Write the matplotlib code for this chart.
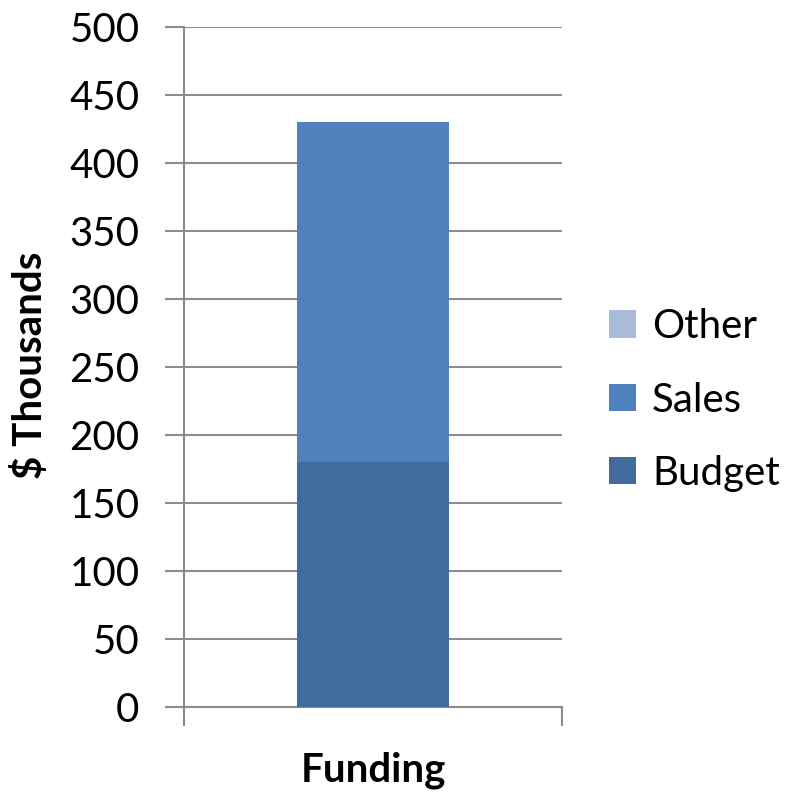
import matplotlib
matplotlib.use("Agg")
import matplotlib.pyplot as plt
from matplotlib.patches import Patch

plt.rcParams['font.family'] = ['Lato', 'DejaVu Sans']

categories = ["Funding"]
series_names = ["Budget", "Sales", "Other"]
budget = [180]
sales = [250]
other = [0]
colors = {"Budget": "#416B9C", "Sales": "#4F81BD", "Other": "#A9BBDB"}
yticks = [0, 50, 100, 150, 200, 250, 300, 350, 400, 450, 500]

fig = plt.figure(figsize=(7.92, 7.93), dpi=100)
ax = fig.add_axes([184/792, 86/793, 378/792, 680/793])

x = list(range(len(categories)))
bottom = [0] * len(categories)
for name, vals in zip(series_names, [budget, sales, other]):
    ax.bar(x, vals, width=0.4, bottom=bottom, color=colors[name], zorder=3)
    bottom = [b + v for b, v in zip(bottom, vals)]

ax.set_xlim(-0.5, 0.5)
ax.set_ylim(0, 500)
ax.set_yticks(yticks)
ax.set_yticklabels([str(t) for t in yticks], fontsize=29)
ax.tick_params(axis='y', length=14, width=1.5, color='#8C8C8C', pad=18)
ax.set_xticks([-0.5, 0.5])
ax.set_xticklabels(["", ""])
ax.tick_params(axis='x', length=14, width=1.5, color='#8C8C8C', direction='out')
ax.grid(axis='y', color='#8C8C8C', linewidth=1.5, zorder=0)
for s in ['top', 'right']:
    ax.spines[s].set_visible(False)
for s in ['left', 'bottom']:
    ax.spines[s].set_color('#8C8C8C')
    ax.spines[s].set_linewidth(1.5)
ax.set_axisbelow(True)

fig.text(373/792, 1 - 770/793, categories[0], ha='center', va='center',
         fontsize=29, fontweight='bold')
fig.text(30/792, 1 - 365/793, "$ Thousands", ha='center', va='center',
         rotation=90, fontsize=29, fontweight='bold')

handles = [Patch(facecolor=colors[n]) for n in ["Other", "Sales", "Budget"]]
fig.legend(handles, ["Other", "Sales", "Budget"], loc='center left',
           bbox_to_anchor=(609/792, 1 - 400/793), frameon=False, fontsize=29,
           handlelength=0.67, handleheight=0.67, handletextpad=0.4,
           labelspacing=0.9, borderpad=0, borderaxespad=0)

fig.savefig("out.png", dpi=100)
